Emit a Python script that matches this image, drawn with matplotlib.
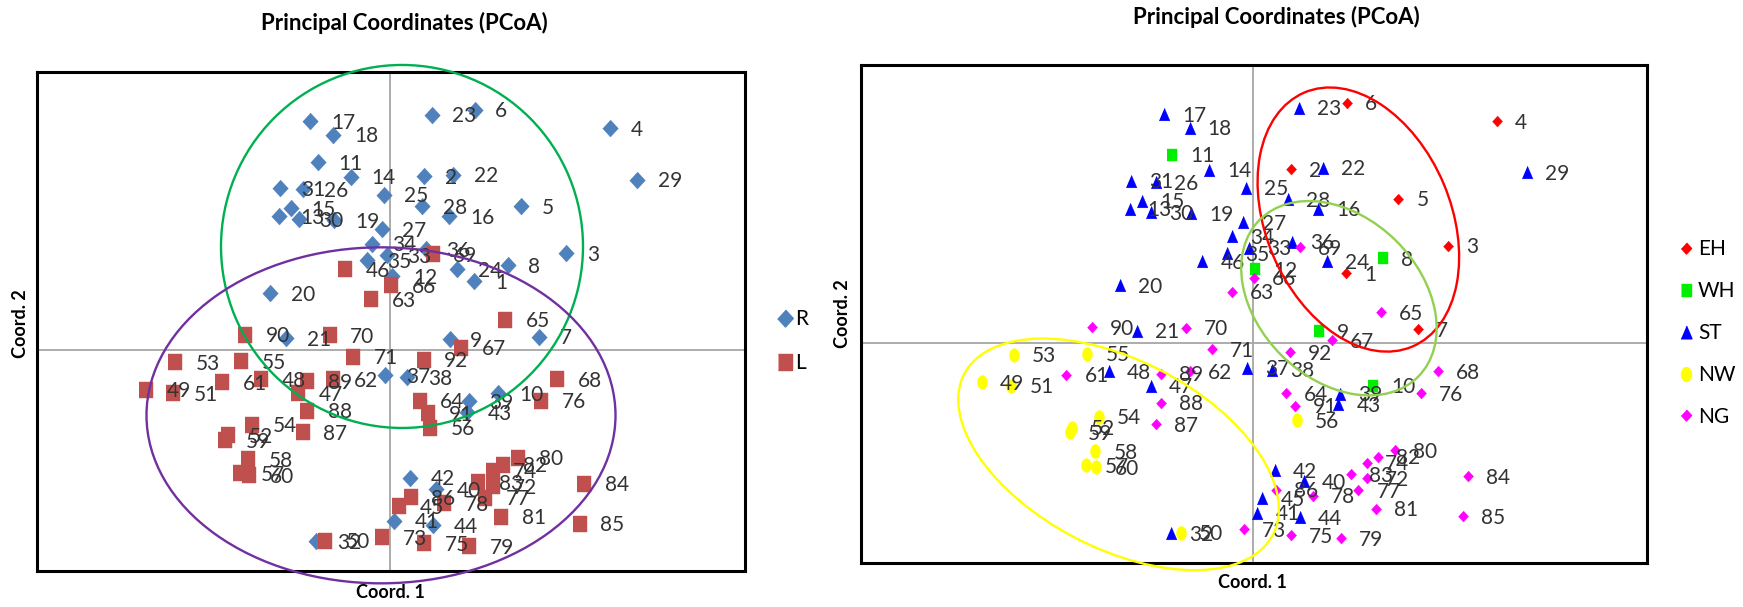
import numpy as np
import matplotlib
matplotlib.use('Agg')
import matplotlib.pyplot as plt
from matplotlib.patches import Ellipse
from matplotlib.path import Path
from matplotlib.lines import Line2D
from matplotlib.transforms import ScaledTranslation

plt.rcParams['font.family'] = ['Lato', 'DejaVu Sans']

# accession numbers 1..92 and their PCoA scores
sample = list(range(1, 93))
pc1 = [1.68, 0.68, 3.52, 4.39, 2.62, 1.69, 2.98, 2.35, 1.19, 2.16,
       -1.45, 0.04, -2.22, -0.79, -1.99, 1.18, -1.60, -1.14, -1.12, -2.40,
       -2.08, 1.26, 0.83, 1.34, -0.13, -1.74, -0.17, 0.64, 4.94, -1.83,
       -2.20, -1.48, -0.07, -0.37, -0.47, 0.71, -0.10, 0.34, 1.57, 0.92,
       0.08, 0.40, 1.54, 0.85, 0.17, -0.91, -1.84, -2.59, -4.88, -1.30,
       -4.35, -3.25, -4.31, -2.77, -2.98, 0.79, -3.00, -2.84, -3.30, -2.82,
       -3.36, -1.14, -0.38, 0.59, 2.30, 0.02, 1.42, 3.34, 0.85, -1.21,
       -0.74, 2.05, -0.16, 2.05, 0.68, 3.02, 1.90, 1.08, 1.58, 2.56,
       2.22, 2.25, 1.76, 3.88, 3.79, 0.41, -1.75, -1.66, -1.66, -2.90,
       0.76, 0.67]
pc2 = [1.73, 4.34, 2.43, 5.54, 3.60, 6.01, 0.34, 2.12, 0.28, -1.08,
       4.70, 1.84, 3.35, 4.33, 3.55, 3.35, 5.72, 5.38, 3.24, 1.43,
       0.30, 4.38, 5.88, 2.03, 3.88, 4.02, 3.02, 3.59, 4.26, 3.27,
       4.05, -4.78, 2.38, 2.66, 2.24, 2.53, -0.63, -0.68, -1.28, -3.47,
       -4.26, -3.19, -1.55, -4.38, -3.90, 2.03, -1.08, -0.72, -0.99, -4.76,
       -1.08, -2.13, -0.30, -1.86, -0.28, -1.94, -3.07, -2.72, -2.25, -3.12,
       -0.80, -0.72, 1.27, -1.26, 0.76, 1.62, 0.06, -0.72, 2.39, 0.37,
       -0.16, -3.40, -4.68, -3.01, -4.83, -1.26, -3.69, -3.83, -4.90, -2.69,
       -4.16, -2.86, -3.30, -3.34, -4.34, -3.68, -2.05, -1.51, -0.78, 0.39,
       -1.58, -0.24]

region = ['R'] * 44 + ['L'] * 48
population = ['EH'] * 7 + ['WH'] * 5 + ['ST'] * 36 + ['NW'] * 12 + ['NG'] * 32

df_x = np.array(pc1)
df_y = np.array(pc2)
ids = np.array(sample)

# marker shapes (Excel style)
diamond = [(0, 0.5), (0.46, 0), (0, -0.5), (-0.46, 0)]
square = [(-0.44, -0.5), (0.44, -0.5), (0.44, 0.5), (-0.44, 0.5)]
triangle = [(0, 0.5), (0.43, -0.5), (-0.43, -0.5)]
circ = Path.unit_circle()
oval = Path(circ.vertices * [0.72, 1.0], circ.codes)

fig = plt.figure(figsize=(17.43, 6.07), dpi=100)
ax1 = fig.add_axes([37 / 1743, 1 - 571 / 607, 708 / 1743, 499 / 607])
ax2 = fig.add_axes([861 / 1743, 1 - 563 / 607, 786 / 1743, 498 / 607])

for ax in (ax1, ax2):
    ax.set_xlim(-7.06, 7.10)
    ax.set_ylim(-5.52, 6.95)
    ax.set_xticks([])
    ax.set_yticks([])
    ax.axhline(0, color='#a6a6a6', lw=1.3, zorder=1)
    ax.axvline(0, color='#a6a6a6', lw=1.3, zorder=1)
    for s in ax.spines.values():
        s.set_linewidth(2.2)
        s.set_color('black')

label_color = '#333333'


def ring(ax, cx, cy, w, h, angle, color):
    tr = fig.dpi_scale_trans + ScaledTranslation(cx, cy, ax.transData)
    e = Ellipse((0, 0), w / 100, h / 100, angle=angle, transform=tr,
                fill=False, ec=color, lw=1.7, clip_on=False, zorder=5)
    ax.add_patch(e)


# ---- left panel: R / L
left_style = {'R': (diamond, '#4f81bd', 12.2), 'L': (square, '#c0504d', 12.2)}
reg = np.array(region)
for g in ['R', 'L']:
    m, c, ms = left_style[g]
    sel = reg == g
    ax1.plot(df_x[sel], df_y[sel], linestyle='none', marker=m, ms=ms,
             color=c, mec=c, mew=0.3, zorder=3)
for i in range(len(ids)):
    ax1.annotate(str(ids[i]), (df_x[i], df_y[i]), xytext=(15, -5.5),
                 textcoords='offset points', va='baseline', ha='left',
                 fontsize=15, color=label_color, zorder=4)

ring(ax1, 0.24, 2.59, 362, 363, 0, '#00b050')
ring(ax1, -0.18, -1.63, 469, 336, 0, '#7030a0')

h1 = [Line2D([], [], linestyle='none', marker=left_style[g][0],
             ms=left_style[g][2], color=left_style[g][1]) for g in ['R', 'L']]
fig.legend(h1, ['R', 'L'], loc='center left',
           bbox_to_anchor=(777 / 1743, 1 - 341 / 607), frameon=False,
           fontsize=15, handlelength=0.8, handletextpad=0.05,
           labelspacing=1.15, borderpad=0, borderaxespad=0)

# ---- right panel: populations
right_style = {'EH': (diamond, '#ff0000', 7.9),
               'WH': (square, '#00ee00', 8.6),
               'ST': (triangle, '#0000ff', 9.1),
               'NW': (oval, '#ffff00', 10.0),
               'NG': (diamond, '#ff00ff', 7.9)}
pop = np.array(population)
for g in ['EH', 'WH', 'ST', 'NW', 'NG']:
    m, c, ms = right_style[g]
    sel = pop == g
    ax2.plot(df_x[sel], df_y[sel], linestyle='none', marker=m, ms=ms,
             color=c, mec=c, mew=0.3, zorder=3)
for i in range(len(ids)):
    ax2.annotate(str(ids[i]), (df_x[i], df_y[i]), xytext=(13, -5.5),
                 textcoords='offset points', va='baseline', ha='left',
                 fontsize=15, color=label_color, zorder=4)

ring(ax2, 1.90, 3.08, 276, 185, 113, '#ff0000')
ring(ax2, 1.55, 1.11, 223, 162, 135.5, '#92d050')
ring(ax2, -2.42, -2.80, 348, 188, -27.5, '#ffff00')

pops = ['EH', 'WH', 'ST', 'NW', 'NG']
h2 = [Line2D([], [], linestyle='none', marker=right_style[g][0],
             ms=right_style[g][2], color=right_style[g][1]) for g in pops]
fig.legend(h2, pops, loc='center left',
           bbox_to_anchor=(1678 / 1743, 1 - 333 / 607), frameon=False,
           fontsize=15, handlelength=0.8, handletextpad=0.15,
           labelspacing=1.05, borderpad=0, borderaxespad=0)

# titles and axis names
fig.text(404 / 1743, 1 - 23 / 607, 'Principal Coordinates (PCoA)',
         ha='center', va='center', fontsize=16, fontweight='bold')
fig.text(1276 / 1743, 1 - 17 / 607, 'Principal Coordinates (PCoA)',
         ha='center', va='center', fontsize=16, fontweight='bold')
fig.text(390 / 1743, 1 - 593 / 607, 'Coord. 1', ha='center', va='center',
         fontsize=13, fontweight='bold')
fig.text(1252 / 1743, 1 - 583 / 607, 'Coord. 1', ha='center', va='center',
         fontsize=13, fontweight='bold')
fig.text(21 / 1743, 1 - 324 / 607, 'Coord. 2', ha='center', va='center',
         rotation=90, fontsize=13, fontweight='bold')
fig.text(843 / 1743, 1 - 314 / 607, 'Coord. 2', ha='center', va='center',
         rotation=90, fontsize=13, fontweight='bold')

fig.savefig('out.png', dpi=100)
